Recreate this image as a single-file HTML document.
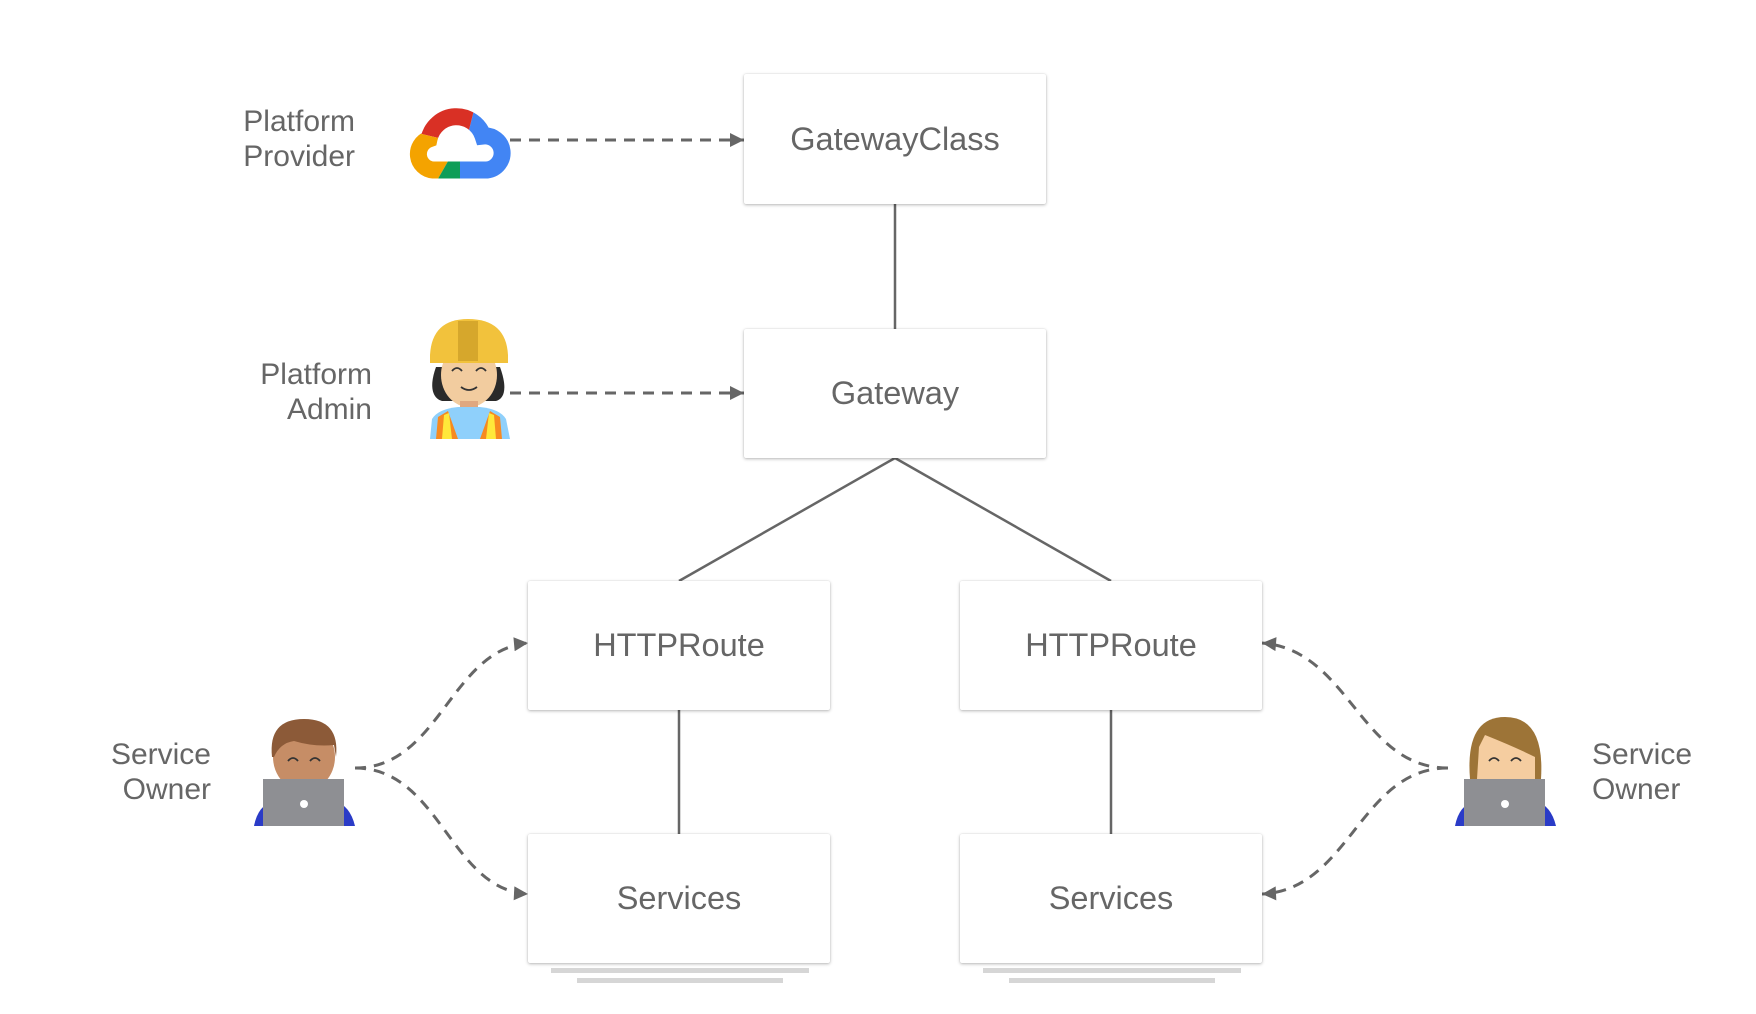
<!DOCTYPE html>
<html><head><meta charset="utf-8"><style>
body{margin:0;width:1756px;height:1014px;background:#fff;overflow:hidden;font-family:"Liberation Sans",sans-serif;}
.box{position:absolute;background:#fff;border-radius:2px;box-shadow:0 1px 3px rgba(0,0,0,0.28),0 0 1px rgba(0,0,0,0.15);display:flex;align-items:center;justify-content:center;color:#666;font-size:32.5px;}
.lbl{position:absolute;color:#666;font-size:30px;line-height:35px;}
</style></head><body>
<svg width="1756" height="1014" style="position:absolute;left:0;top:0">
<defs>
<marker id="b" viewBox="0 0 10 10" markerWidth="16" markerHeight="14" refX="10" refY="5" orient="auto" markerUnits="userSpaceOnUse"><path d="M0,0 L10,5 L0,10z" fill="#666"/></marker>
<clipPath id="cb"><polygon points="55,100 55,58 64,32 72,0 110,0 110,100"/></clipPath>
<clipPath id="cr"><polygon points="0,0 72,0 64,32 42,42 0,32"/></clipPath>
<clipPath id="cy"><polygon points="0,32 42,42 46,58 22,100 0,100"/></clipPath>
<clipPath id="cg"><polygon points="22,100 46,58 55,58 55,100"/></clipPath>
</defs>
<g stroke="#666" stroke-width="2.5" fill="none">
<line x1="895" y1="204" x2="895" y2="329"/>
<line x1="895" y1="458" x2="679" y2="581"/>
<line x1="895" y1="458" x2="1111" y2="581"/>
<line x1="679" y1="710" x2="679" y2="834"/>
<line x1="1111" y1="710" x2="1111" y2="834"/>
</g>
<g stroke="#666" stroke-width="3" fill="none" stroke-dasharray="11,8" marker-end="url(#b)">
<line x1="510" y1="140" x2="744" y2="140"/>
<line x1="510" y1="393" x2="744" y2="393"/>
<path d="M355,768 C440,768 450,650 528,643"/>
<path d="M355,768 C440,768 450,890 528,894"/>
<path d="M1448,768 C1360,768 1350,650 1262,643"/>
<path d="M1448,768 C1360,768 1350,890 1262,894"/>
</g>
<g fill="#d6d6d6">
<rect x="551" y="968" width="258" height="5"/><rect x="577" y="978" width="206" height="5"/>
<rect x="983" y="968" width="258" height="5"/><rect x="1009" y="978" width="206" height="5"/>
</g>
<!-- cloud -->
<g transform="translate(405,98)" fill="none" stroke-width="17">
<path id="cl" d="M55,72 L28,72 A16,16 0 0 1 24,41 A28,28 0 0 1 78,38 A17,17 0 0 1 82,72 Z" stroke="#4285f4" clip-path="url(#cb)"/>
<path d="M55,72 L28,72 A16,16 0 0 1 24,41 A28,28 0 0 1 78,38 A17,17 0 0 1 82,72 Z" stroke="#d93025" clip-path="url(#cr)"/>
<path d="M55,72 L28,72 A16,16 0 0 1 24,41 A28,28 0 0 1 78,38 A17,17 0 0 1 82,72 Z" stroke="#f4a300" clip-path="url(#cy)"/>
<path d="M55,72 L28,72 A16,16 0 0 1 24,41 A28,28 0 0 1 78,38 A17,17 0 0 1 82,72 Z" stroke="#0f9d58" clip-path="url(#cg)"/>
</g>
<!-- admin -->
<g transform="translate(428,319)">
<path d="M8,48 C0,70 6,80 14,82 L68,82 C76,80 80,70 72,48z" fill="#2a2a2a"/>
<ellipse cx="41" cy="56" rx="28" ry="32" fill="#f2cc9f"/>
<rect x="32" y="82" width="18" height="12" fill="#e0a880"/>
<path d="M2,120 L4,100 Q10,90 30,88 L52,88 Q72,90 78,100 L82,120z" fill="#8fd0fb"/>
<path d="M8,120 L10,98 L20,92 L30,120z M74,120 L72,98 L62,92 L52,120z" fill="#f78a20"/>
<path d="M14,120 L16,96 L21,94 L24,120z M68,120 L66,96 L61,94 L58,120z" fill="#ffe83a"/>
<path d="M2,36 Q4,0 40,0 Q78,0 80,36 L80,44 L2,44z" fill="#f2c23c"/>
<rect x="30" y="2" width="20" height="40" fill="#d6a72c"/>
<path d="M24,52 q5,-6 10,0 M48,52 q5,-6 10,0 M33,68 q8,6 16,0" stroke="#333" stroke-width="1.8" fill="none"/>
</g>
<!-- man -->
<g transform="translate(254,717)">
<ellipse cx="50" cy="40" rx="31" ry="34" fill="#c68d66"/>
<path d="M18,40 Q14,2 50,2 Q86,2 82,40 L80,28 Q60,30 40,24 Q26,26 20,40z" fill="#8c5a38"/>
<path d="M34,44 q5,-6 10,0 M56,44 q5,-6 10,0" stroke="#333" stroke-width="1.8" fill="none"/>
<path d="M0,109 Q4,88 20,84 L80,84 Q96,88 101,109z" fill="#2a3bc7"/>
<rect x="9" y="62" width="81" height="47" fill="#8e8f93"/>
<circle cx="50" cy="87" r="4" fill="#fff"/>
</g>
<!-- woman -->
<g transform="translate(1455,717)">
<path d="M15,62 Q10,0 50,0 Q90,0 86,62z" fill="#9d7437"/>
<path d="M22,62 L24,30 L30,18 Q60,30 80,40 L80,62z" fill="#f5cda0"/>
<path d="M34,44 q5,-6 10,0 M56,44 q5,-6 10,0" stroke="#333" stroke-width="1.8" fill="none"/>
<path d="M0,109 Q4,88 20,84 L80,84 Q96,88 101,109z" fill="#2a3bc7"/>
<rect x="9" y="62" width="81" height="47" fill="#8e8f93"/>
<circle cx="50" cy="87" r="4" fill="#fff"/>
</g>
</svg>
<div class="box" style="left:744px;top:74px;width:302px;height:130px">GatewayClass</div>
<div class="box" style="left:744px;top:329px;width:302px;height:129px">Gateway</div>
<div class="box" style="left:528px;top:581px;width:302px;height:129px">HTTPRoute</div>
<div class="box" style="left:960px;top:581px;width:302px;height:129px">HTTPRoute</div>
<div class="box" style="left:528px;top:834px;width:302px;height:129px">Services</div>
<div class="box" style="left:960px;top:834px;width:302px;height:129px">Services</div>
<div class="lbl" style="right:1401px;top:104px;text-align:right">Platform<br>Provider</div>
<div class="lbl" style="right:1384px;top:357px;text-align:right">Platform<br>Admin</div>
<div class="lbl" style="right:1545px;top:737px;text-align:right">Service<br>Owner</div>
<div class="lbl" style="left:1592px;top:737px">Service<br>Owner</div>
</body></html>
